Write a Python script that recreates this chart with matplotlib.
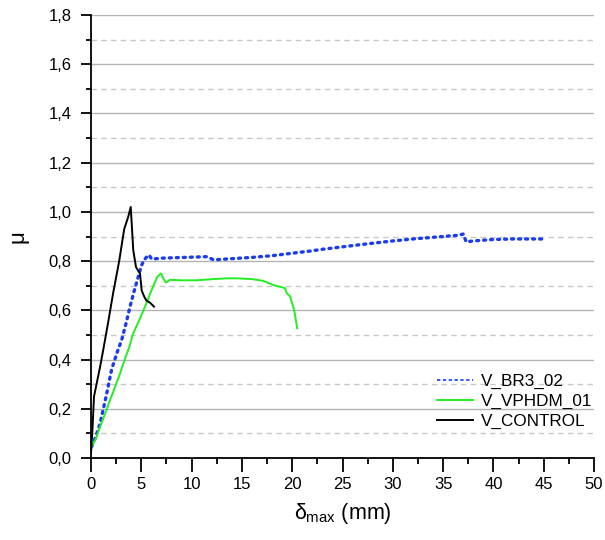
import matplotlib
matplotlib.use("Agg")
import matplotlib.pyplot as plt
from matplotlib.ticker import MultipleLocator, FuncFormatter
from matplotlib.lines import Line2D

plt.rcParams['font.family'] = ['Liberation Sans', 'DejaVu Sans']
plt.rcParams['mathtext.fontset'] = 'custom'
plt.rcParams['mathtext.rm'] = 'Liberation Sans'
plt.rcParams['mathtext.it'] = 'Liberation Sans'

br3_x = [0.07, 0.5, 0.9, 1.5, 2.05, 2.6, 3.05, 3.5, 3.88, 4.3, 4.7, 5.0, 5.27, 5.5, 5.77, 6.03, 7.0, 8.5, 10.0, 11.5, 12.2, 14.0, 16.0, 18.0, 20.0, 21.8, 23.0, 25.0, 27.0, 30.0, 32.0, 35.0, 36.5, 37.0, 37.3, 38.0, 40.0, 42.0, 45.2]
br3_y = [0.046, 0.09, 0.14, 0.25, 0.36, 0.43, 0.48, 0.55, 0.615, 0.68, 0.737, 0.78, 0.805, 0.815, 0.825, 0.808, 0.812, 0.814, 0.816, 0.818, 0.805, 0.81, 0.815, 0.822, 0.832, 0.841, 0.848, 0.858, 0.868, 0.882, 0.89, 0.9, 0.905, 0.91, 0.878, 0.882, 0.888, 0.89, 0.89]

vph_x = [0.07, 0.5, 0.9, 1.4, 1.9, 2.4, 2.9, 3.4, 3.8, 4.2, 4.8, 5.37, 6.0, 6.6, 6.96, 7.2, 7.46, 7.85, 9.0, 10.5, 12.2, 13.5, 14.5, 16.0, 17.1, 18.1, 19.3, 19.45, 19.8, 20.2, 20.5]
vph_y = [0.046, 0.08, 0.127, 0.18, 0.236, 0.29, 0.345, 0.406, 0.45, 0.507, 0.56, 0.615, 0.68, 0.737, 0.75, 0.728, 0.713, 0.724, 0.722, 0.722, 0.727, 0.73, 0.73, 0.727, 0.72, 0.703, 0.69, 0.67, 0.656, 0.6, 0.527]

ctl_x = [0.0, 0.15, 0.3, 0.6, 0.9, 1.22, 1.7, 2.2, 2.8, 3.3, 3.7, 3.95, 4.05, 4.2, 4.47, 4.7, 4.87, 5.04, 5.3, 5.5, 5.9, 6.26]
ctl_y = [0.02, 0.12, 0.25, 0.31, 0.37, 0.44, 0.55, 0.67, 0.8, 0.93, 0.98, 1.02, 0.95, 0.845, 0.776, 0.76, 0.75, 0.68, 0.655, 0.64, 0.63, 0.615]

labels = ['V_BR3_02', 'V_VPHDM_01', 'V_CONTROL']

fig = plt.figure(figsize=(6.05, 5.4), dpi=100)
ax = fig.add_axes([91/605, 1 - 458/540, (594 - 91)/605, (458 - 15)/540])

ax.plot(br3_x, br3_y, color='#1a3cf0', lw=2.4, linestyle=(0, (0.6, 1.5)), dash_capstyle='round', label=labels[0])
ax.plot(vph_x, vph_y, color='#22ee22', lw=1.4, label=labels[1])
ax.plot(ctl_x, ctl_y, color='black', lw=1.4, label=labels[2])

ax.set_xlim(0, 50)
ax.set_ylim(0, 1.8)
ax.xaxis.set_major_locator(MultipleLocator(5))
ax.xaxis.set_minor_locator(MultipleLocator(2.5))
ax.yaxis.set_major_locator(MultipleLocator(0.2))
ax.yaxis.set_minor_locator(MultipleLocator(0.1))
ax.yaxis.set_major_formatter(FuncFormatter(lambda v, p: f"{v:.1f}".replace('.', ',')))
ax.xaxis.set_major_formatter(FuncFormatter(lambda v, p: f"{v:.0f}"))

ax.grid(which='major', axis='y', color='#b4b4b4', lw=1.0, linestyle='-')
ax.grid(which='minor', axis='y', color='#c8c8c8', lw=1.0, linestyle=(0, (4, 3)))
ax.set_axisbelow(True)

for s in ['top', 'right']:
    ax.spines[s].set_visible(False)
for s in ['left', 'bottom']:
    ax.spines[s].set_linewidth(1.3)

ax.tick_params(which='both', direction='out', width=1.3, labelsize=12)
ax.tick_params(axis='y', which='major', length=7.5, pad=6.5)
ax.tick_params(axis='y', which='minor', length=3.5)
ax.tick_params(axis='x', which='major', length=10, pad=4)
ax.tick_params(axis='x', which='minor', length=4)

ax.set_xlabel(r'$\delta_{\mathrm{max}}$ (mm)', fontsize=15.5, labelpad=6)
ax.set_ylabel('μ', fontsize=16, labelpad=14)

handles = [Line2D([], [], color='#1a3cf0', lw=1.2, linestyle=(0, (2, 1.5))),
           Line2D([], [], color='#22ee22', lw=1.4),
           Line2D([], [], color='black', lw=1.4)]
ax.legend(handles, labels, loc='upper left', bbox_to_anchor=((437 - 91) / 503, 1 - (374 - 15) / 443), frameon=False,
          fontsize=12.3, handlelength=2.1, handletextpad=0.47, labelspacing=0.27, borderaxespad=0, borderpad=0)

fig.savefig('out.png', dpi=100)
